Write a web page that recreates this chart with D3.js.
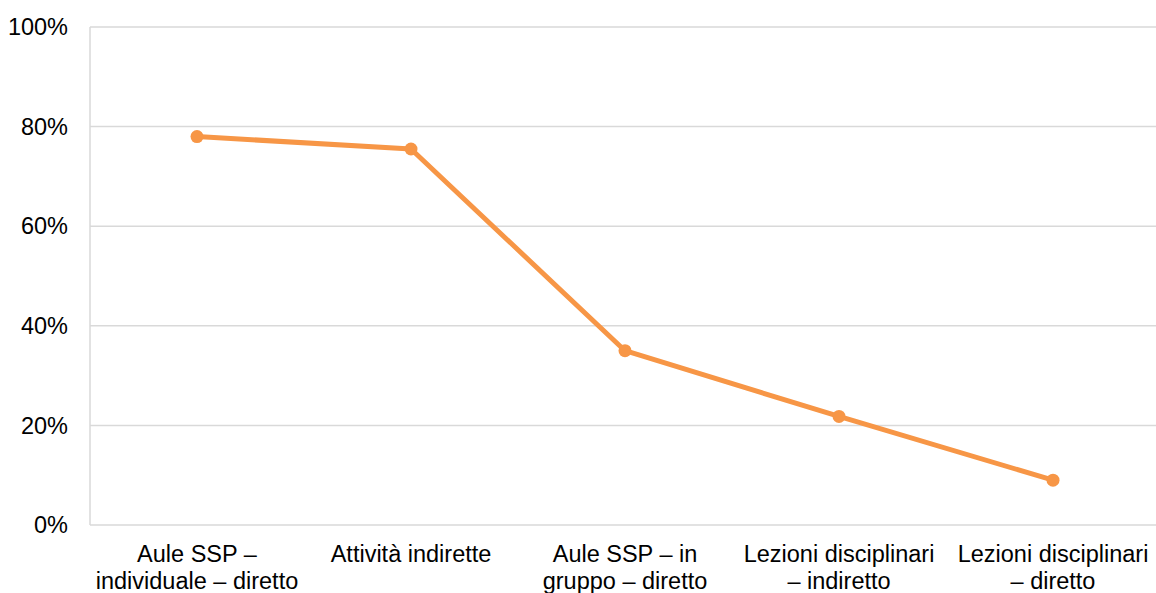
<!DOCTYPE html>
<html>
<head>
<meta charset="utf-8">
<script src="https://cdn.jsdelivr.net/npm/d3@7"></script>
<style>
  body { margin: 0; background: #fff; }
  text { font-family: "Liberation Sans", Arial, sans-serif; }
</style>
</head>
<body>
<div id="chart"></div>
<script>
var categories = [
    ["Aule SSP \u2013", "individuale \u2013 diretto"],
    ["Attivit\u00e0 indirette"],
    ["Aule SSP \u2013 in", "gruppo \u2013 diretto"],
    ["Lezioni disciplinari", "\u2013 indiretto"],
    ["Lezioni disciplinari", "\u2013 diretto"]
];
var values = [0.78, 0.755, 0.35, 0.218, 0.09];
var yTicks = [0, 0.2, 0.4, 0.6, 0.8, 1];

var width = 1156, height = 593;
var margin = {top: 27, left: 90, right: -4, bottom: 68};

var svg = d3.select("#chart")
            .append("svg")
            .attr("width", width)
            .attr("height", height);

var x = d3.scaleBand()
          .domain(d3.range(categories.length))
          .range([margin.left, width - margin.right]);

var y = d3.scaleLinear()
          .domain([0, 1])
          .range([height - margin.bottom, margin.top]);

// gridlines
svg.selectAll("line.grid")
   .data(yTicks)
   .enter()
   .append("line")
       .attr("class", "grid")
       .attr("x1", margin.left)
       .attr("x2", width)
       .attr("y1", function(d) { return y(d); })
       .attr("y2", function(d) { return y(d); })
       .attr("stroke", "#d9d9d9")
       .attr("stroke-width", 1.5);

// left axis line
svg.append("line")
   .attr("x1", margin.left).attr("x2", margin.left)
   .attr("y1", y(1)).attr("y2", y(0))
   .attr("stroke", "#d9d9d9")
   .attr("stroke-width", 1.5);

// y tick labels
svg.selectAll("text.ytick")
   .data(yTicks)
   .enter()
   .append("text")
       .attr("class", "ytick")
       .attr("x", 68)
       .attr("y", function(d) { return y(d); })
       .attr("dy", "0.35em")
       .attr("text-anchor", "end")
       .attr("font-size", 23.5)
       .attr("fill", "#000")
       .text(d3.format(".0%"));

// x labels
var xl = svg.selectAll("text.xlab")
   .data(categories)
   .enter()
   .append("text")
       .attr("class", "xlab")
       .attr("text-anchor", "middle")
       .attr("font-size", 23.5)
       .attr("fill", "#000");

xl.selectAll("tspan")
  .data(function(d, i) { return d.map(function(s) { return {s: s, i: i}; }); })
  .enter()
  .append("tspan")
      .attr("x", function(d) { return x(d.i) + x.bandwidth() / 2; })
      .attr("y", function(d, j) { return 562 + j * 27; })
      .text(function(d) { return d.s; });

var line = d3.line()
             .x(function(d, i) { return x(i) + x.bandwidth() / 2; })
             .y(function(d) { return y(d); });

svg.append("path")
   .datum(values)
   .attr("d", line)
   .attr("fill", "none")
   .attr("stroke", "#f79646")
   .attr("stroke-width", 5)
   .attr("stroke-linejoin", "round");

svg.selectAll("circle")
   .data(values)
   .enter()
   .append("circle")
       .attr("cx", function(d, i) { return x(i) + x.bandwidth() / 2; })
       .attr("cy", function(d) { return y(d); })
       .attr("r", 6.5)
       .attr("fill", "#f79646");
</script>
</body>
</html>
